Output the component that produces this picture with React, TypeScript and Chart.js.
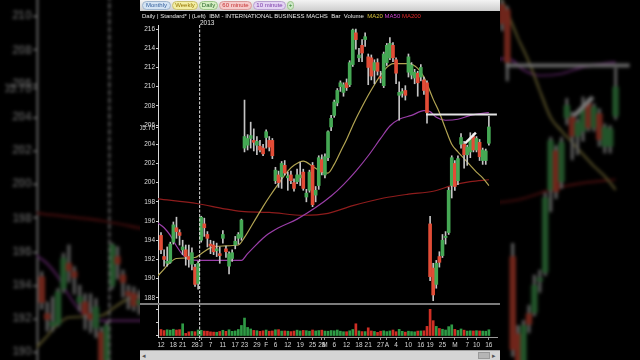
import React, { useEffect, useRef } from "react";
import { Chart, registerables } from "chart.js";
Chart.register(...registerables);

// ---- Data (IBM daily, Dec 12 2012 .. May 16 2013), bar index 0..106 ----
const opens = [194.5,192.3,191.6,191.7,193.8,195.3,194.8,193.0,193.0,192.3,191.5,191.2,189.5,
  194.0,195.7,194.6,193.6,193.5,192.9,192.6,194.2,193.1,191.3,192.1,193.5,194.2,194.3,203.6,203.9,204.6,204.4,203.9,203.8,203.6,
  204.7,204.4,204.4,200.2,200.8,200.6,201.8,200.5,200.8,200.0,200.1,200.5,201.1,198.5,199.2,201.8,198.7,199.7,202.4,
  200.8,202.6,205.8,207.0,208.3,210.0,209.4,210.4,210.2,212.3,215.6,213.0,214.3,214.9,213.1,213.0,211.7,212.5,211.0,210.1,
  212.5,213.0,214.3,212.8,209.1,209.3,209.6,211.5,211.2,210.9,211.4,211.0,210.7,210.4,195.7,191.1,189.4,192.3,192.4,194.3,194.8,199.7,
  202.0,200.2,204.0,204.0,202.9,203.2,204.8,203.4,204.2,202.3,202.3,204.1];
const highs = [194.8,193.0,193.3,193.8,195.9,196.4,195.1,194.0,193.5,193.5,193.2,191.5,191.8,
  196.5,196.3,194.9,194.0,193.9,193.7,193.3,195.0,193.4,192.8,193.0,194.4,194.8,196.2,208.6,205.0,206.3,205.6,204.8,204.4,204.0,
  205.5,204.8,204.6,201.6,201.2,202.2,202.3,201.1,201.2,200.4,201.4,202.1,201.4,199.3,201.3,202.1,199.6,202.8,202.9,
  203.0,205.4,207.0,208.6,209.8,210.6,210.4,210.8,212.7,216.0,216.0,214.0,214.9,215.6,213.4,213.3,212.8,212.9,211.6,213.6,
  214.5,215.1,214.6,213.0,210.5,209.8,210.1,213.4,212.5,211.8,211.6,212.3,211.0,210.6,196.5,191.6,191.9,192.8,194.6,194.9,199.5,202.8,
  202.3,202.8,205.1,204.3,203.9,205.2,205.1,204.8,204.5,203.6,203.5,206.9];
const lows = [192.6,191.3,191.3,191.6,193.6,194.2,193.5,192.5,191.4,191.2,190.9,189.2,188.9,
  193.8,194.4,193.3,192.6,192.5,192.3,191.6,193.7,192.2,190.5,191.8,193.1,193.6,194.0,203.2,203.4,203.6,203.3,202.9,203.2,202.8,
  203.6,203.3,202.5,199.9,199.5,199.4,200.8,199.2,199.9,199.1,199.9,199.7,199.2,198.0,199.0,197.5,198.0,199.3,200.8,
  200.5,202.3,205.4,206.8,208.0,209.5,209.0,209.6,210.0,212.1,213.9,212.6,212.6,214.2,210.2,210.7,210.3,211.2,210.4,209.9,
  212.2,212.8,212.6,210.3,206.5,208.9,208.6,211.0,210.8,210.3,209.0,210.6,209.2,206.2,189.8,187.7,189.0,191.2,192.2,193.6,194.6,198.4,
  199.2,199.8,203.6,201.5,201.8,202.6,203.2,203.2,202.3,201.9,201.9,203.9];
const closes = [193.0,192.0,191.8,193.6,195.6,194.9,194.5,193.3,192.3,192.0,192.7,189.4,191.6,
  196.4,195.3,194.2,193.4,192.8,193.1,192.4,194.6,192.8,192.6,192.7,193.9,194.6,196.1,204.8,204.6,204.9,204.2,204.3,203.4,203.0,
  205.3,203.7,202.8,201.3,200.0,202.0,201.0,200.7,200.2,199.4,200.8,200.8,199.4,198.9,201.1,197.7,199.2,202.6,201.1,
  202.7,205.3,206.7,208.4,209.6,210.4,210.2,209.9,212.5,215.9,214.9,213.3,213.5,215.2,212.0,211.1,212.5,211.6,210.9,213.4,
  214.3,214.5,213.0,211.4,209.4,209.5,209.1,213.1,212.25,211.5,210.4,212.0,209.6,207.3,190.2,188.3,191.6,191.7,194.0,194.4,199.2,202.6,
  199.6,202.5,204.7,202.9,203.7,204.5,203.4,204.6,202.7,203.4,203.3,205.8];
const volumes = [5.0,4.2,4.8,4.5,5.2,4.6,4.9,9.4,2.0,3.2,3.5,3.3,4.6,
  4.4,3.8,3.7,3.2,3.0,2.9,3.5,4.4,3.6,4.8,3.6,3.9,5.0,8.1,13.8,6.6,5.4,4.3,4.1,3.6,4.0,
  4.6,3.7,3.9,4.8,4.9,3.8,3.9,3.7,3.4,3.8,4.5,3.9,4.3,4.1,3.7,4.6,3.9,4.2,4.5,
  3.8,3.7,4.2,4.0,4.6,3.7,3.3,3.3,4.0,5.0,9.4,3.9,3.4,3.4,6.3,3.9,3.5,2.8,3.7,4.0,
  3.4,3.9,4.6,3.3,5.1,3.6,3.0,3.7,3.4,3.2,3.8,3.9,4.0,7.4,20.5,11.8,7.4,5.8,5.2,4.6,7.2,8.6,
  5.1,4.3,5.4,4.5,3.8,4.0,3.9,4.1,3.9,3.8,3.7,4.8];

// bottom axis labels (bar index -> text)
const xTickIdx = [0,4,7,11,13,16,20,24,27,31,34,37,41,45,49,52,53,56,60,64,67,71,73,76,80,84,87,91,95,99,102,106];
const xTickText = ["12","18","21","28","J","7","11","17","23","29","F","6","12","19","25","28","M","6","12","18","21","27","A","4","10","16","19","25","M","7","10","16"];
const priceTicks = [188,190,192,194,196,198,200,202,204,205.7,206,208,210,212,214,216];
const volTicks = [0,10,20];

// moving averages (bar index -> value)
const ma20Idx = [-1,1,3,5,11,13,16,20,25,27,30,33,35,38,41,43,46,49,52,54,56,58,60,62.5,65,67,69,71,73,75,80,83,85,86,88,90,92,94,96,98,100,102,104,106];
const ma20Val = [190.3,191.0,191.7,192.1,192.2,192.6,193.2,193.4,193.5,194.3,195.9,197.5,198.5,199.9,201.2,201.8,202.25,201.7,201.1,201.0,201.9,203.2,204.5,206.3,207.9,209.1,210.2,211.2,212.0,212.4,212.4,211.9,211.0,210.3,208.7,207.3,205.6,204.0,203.2,202.5,201.8,201.1,200.5,199.7];
const ma50Idx = [-1,1,3,5,7,9,12,26,28,31,34,38,44,50,55,59,63,67,71,74,77,81,85,87,89,92,96,100,106];
const ma50Val = [195.8,195.3,194.5,193.4,192.5,192.0,191.9,191.9,192.6,193.6,194.5,195.3,196.2,197.4,198.6,199.8,201.2,202.8,204.6,205.9,206.6,207.0,207.5,207.4,206.8,206.5,206.6,207.0,207.3];
const ma200Idx = [-1,12,20,26,35,46,54,62,72,80,88,95,100,106];
const ma200Val = [198.3,197.8,197.3,197.0,196.9,196.6,196.8,197.6,198.4,198.8,199.1,199.8,200.1,200.3];

// drawn annotations (bar index / price)
const resistIdx = [85.7, 108.6];
const resistVal = [207.1, 207.1];
const trendIdx = [98.3, 101.8];
const trendVal = [204.1, 205.2];
const yearIdx = 12.5;

const PMIN = 183.92, PMAX = 216.42, VMIN = -0.77, VMAX = 239.2, XMIN = -0.97, XMAX = 108.63;
const FONT = '"Liberation Sans", Arial, sans-serif';

function pts(xs: number[], ys: number[]) { return xs.map((x, i) => ({ x, y: ys[i] })); }

function makeConfig(): any {
  const up = closes.map((c, i) => c >= opens[i]);
  const wick = highs.map((h, i) => ({ x: i, y: [lows[i], h] }));
  const body = opens.map((o, i) => {
    let lo = Math.min(o, closes[i]), hi = Math.max(o, closes[i]);
    if (hi - lo < 0.14) { const m = (hi + lo) / 2; lo = m - 0.07; hi = m + 0.07; }
    return { x: i, y: [lo, hi] };
  });
  const vol = volumes.map((v, i) => ({ x: i, y: v }));
  const line = (data: any, color: string, width: number, order: number, extra: any = {}) => ({
    type: "line", data, borderColor: color, borderWidth: width, pointRadius: 0, fill: false,
    yAxisID: "y", order, cubicInterpolationMode: "monotone", ...extra,
  });
  return {
    type: "bar",
    data: {
      datasets: [
        { type: "bar", data: vol, yAxisID: "yv", grouped: false, barThickness: 2, borderWidth: 0,
          backgroundColor: up.map((u) => (u ? "#2f9a45" : "#cf2f25")), order: 20 },
        line(pts(ma200Idx, ma200Val), "#8e1c1c", 1.2, 15),
        line(pts(ma50Idx, ma50Val), "#9a3ea8", 1.2, 14),
        line(pts(ma20Idx, ma20Val), "#b3a553", 1.2, 13),
        { type: "bar", data: wick, yAxisID: "y", grouped: false, barThickness: 1, borderWidth: 0,
          backgroundColor: "#c4c4c4", order: 12 },
        { type: "bar", data: body, yAxisID: "y", grouped: false, barThickness: 3, borderWidth: 0,
          backgroundColor: up.map((u) => (u ? "#45a854" : "#e24c36")), order: 11 },
        line([{ x: yearIdx, y: PMAX }, { x: yearIdx, y: 183.5 }], "#e6e6e6", 1, 5,
          { borderDash: [3, 1.5], clip: false, cubicInterpolationMode: "default" }),
        line(pts(resistIdx, resistVal), "#e4e4e4", 2, 2, { cubicInterpolationMode: "default" }),
        line(pts(trendIdx, trendVal), "#f2f2f2", 2.5, 1, { cubicInterpolationMode: "default" }),
      ],
    },
    options: {
      responsive: false, animation: false, events: [],
      layout: { padding: { top: 25, left: 0, right: 3, bottom: 10 } },
      plugins: { legend: { display: false }, tooltip: { enabled: false } },
      scales: {
        x: {
          type: "linear", min: XMIN, max: XMAX, offset: false,
          grid: { display: true, drawOnChartArea: false, offset: false, tickLength: 3, color: "#9a9a9a" },
          border: { display: true, color: "#9a9a9a" },
          afterBuildTicks: (s: any) => { s.ticks = xTickIdx.map((v) => ({ value: v })); },
          afterFit: (s: any) => { s.height = 13; },
          ticks: { autoSkip: false, maxRotation: 0, padding: 1, color: "#d8d8d8", font: { size: 6.5, family: FONT },
            callback: (v: any) => { const k = xTickIdx.indexOf(v); return k >= 0 ? xTickText[k] : ""; } },
        },
        y: {
          type: "linear", position: "left", min: PMIN, max: PMAX, weight: 1,
          grid: { display: true, drawOnChartArea: false, tickLength: 2, color: "#cccccc" },
          border: { display: true, color: "#d8d8d8" },
          afterBuildTicks: (s: any) => { s.ticks = priceTicks.map((v) => ({ value: v })); },
          afterFit: (s: any) => { s.width = 18; },
          ticks: { autoSkip: false, padding: 1, color: "#dcdcdc", font: { size: 6.5, family: FONT },
            callback: (v: any) => (v === 205.7 ? "205.70" : String(v)) },
        },
        yv: {
          type: "linear", position: "left", min: VMIN, max: VMAX, weight: 0,
          grid: { display: true, drawOnChartArea: false, tickLength: 2, color: "#cccccc" },
          border: { display: false },
          afterBuildTicks: (s: any) => { s.ticks = volTicks.map((v) => ({ value: v })); },
          afterFit: (s: any) => { s.width = 0; },
          ticks: { autoSkip: false, padding: 1, color: "#dcdcdc", font: { size: 6.5, family: FONT },
            callback: (v: any) => (v === 0 ? "0" : v + "m") },
        },
      },
    },
  };
}

const tabs = [
  { label: "Monthly", x: 2, w: 29, bg: "#d3e3f3", bd: "#9fb4cc", fg: "#35609e" },
  { label: "Weekly", x: 32, w: 26, bg: "#f3eea2", bd: "#c9c070", fg: "#957400" },
  { label: "Daily", x: 59, w: 19, bg: "#d5eec2", bd: "#9cc48a", fg: "#28652a" },
  { label: "60 minute", x: 79, w: 33, bg: "#f5caca", bd: "#d99a9a", fg: "#c53030" },
  { label: "10 minute", x: 113, w: 33, bg: "#e3d3f3", bd: "#b8a0d0", fg: "#7a3aa8" },
  { label: "+", x: 147, w: 7, bg: "#cde8c6", bd: "#9cc48a", fg: "#2c7a2c" },
];

function Frame({ left }: { left: number }) {
  const ref = useRef<HTMLCanvasElement>(null);
  useEffect(() => {
    const chart = new Chart(ref.current as HTMLCanvasElement, makeConfig());
    return () => chart.destroy();
  }, []);
  return (
    <div style={{ position: "absolute", left, top: 0, width: 360, height: 360, background: "#000", overflow: "hidden", fontFamily: FONT }}>
      <canvas ref={ref} width={360} height={360} style={{ position: "absolute", left: 0, top: 0, width: 360, height: 360 }} />
      <div style={{ position: "absolute", left: 0, top: 0, width: 360, height: 11, background: "linear-gradient(#f3f3f3,#cdcdcd)" }}>
        {tabs.map((t) => (
          <div key={t.label} style={{ position: "absolute", left: t.x, top: 1, width: t.w, height: 9, boxSizing: "border-box",
            borderRadius: 5, background: t.bg, border: `1px solid ${t.bd}`, color: t.fg, fontSize: 6, lineHeight: "7px",
            textAlign: "center", whiteSpace: "nowrap" }}>{t.label}</div>
        ))}
      </div>
      <div style={{ position: "absolute", left: 2, top: 12, fontSize: 6, lineHeight: "8px", color: "#e6e6e6", whiteSpace: "nowrap" }}>
        Daily | Standard* | (Left) &nbsp;IBM - INTERNATIONAL BUSINESS MACHS &nbsp;Bar &nbsp;Volume &nbsp;
        <span style={{ color: "#d9c23c" }}>MA20</span>{" "}
        <span style={{ color: "#cf45cf" }}>MA50</span>{" "}
        <span style={{ color: "#e02a2a" }}>MA200</span>
      </div>
      <div style={{ position: "absolute", left: 60, top: 19, fontSize: 6.5, lineHeight: "8px", color: "#e8e8e8" }}>2013</div>
      <div style={{ position: "absolute", left: 0, top: 303, width: 360, height: 2, background: "#7c7c7c" }} />
      <div style={{ position: "absolute", left: 0, top: 350, width: 360, height: 10, background: "#d5d5d5", borderTop: "1px solid #a0a0a0", boxSizing: "border-box" }}>
        <div style={{ position: "absolute", left: 2, top: 0, fontSize: 7, lineHeight: "9px", color: "#555" }}>◂</div>
        <div style={{ position: "absolute", left: 338, top: 1, width: 12, height: 7, background: "#b5b5b5", border: "1px solid #999", boxSizing: "border-box" }} />
        <div style={{ position: "absolute", left: 352, top: 0, fontSize: 7, lineHeight: "9px", color: "#555" }}>▸</div>
      </div>
    </div>
  );
}

export default function App() {
  return (
    <div style={{ position: "fixed", left: 0, top: 0, width: 640, height: 360, overflow: "hidden", background: "#000" }}>
      <div style={{ position: "absolute", left: 0, top: 0, width: 640, height: 360, transform: "scale(1.75)",
        transformOrigin: "320px 180px", filter: "brightness(0.5) blur(0.9px)" }}>
        <Frame left={140} />
      </div>
      <Frame left={140} />
    </div>
  );
}
